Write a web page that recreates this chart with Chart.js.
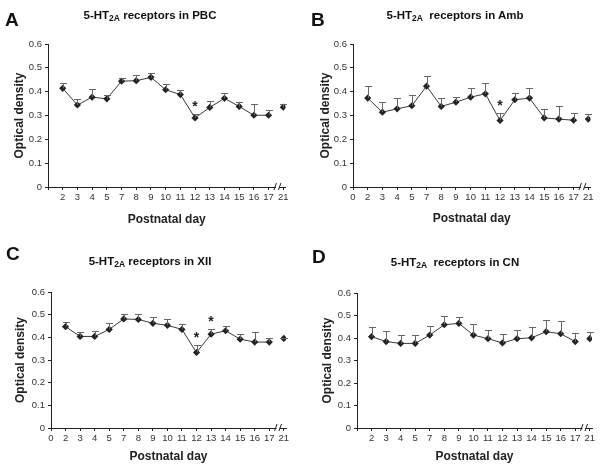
<!DOCTYPE html>
<html>
<head>
<meta charset="utf-8">
<script src="https://cdn.jsdelivr.net/npm/chart.js@4.4.0/dist/chart.umd.min.js"></script>
<style>
body { margin: 0; background: #fff; width: 600px; height: 473px; position: relative; overflow: hidden; font-family: "Liberation Sans", Arial, sans-serif; color: #111; }
.panel { position: absolute; }
.letter { position: absolute; font-weight: bold; font-size: 19px; line-height: 1; }
.title { position: absolute; font-weight: bold; font-size: 11.5px; white-space: nowrap; transform: translateX(-50%); line-height: 1; }
.title sub { font-size: 8.5px; vertical-align: -2px; }
</style>
</head>
<body>
<div class="panel" style="left:0;top:0;width:300px;height:236px"><canvas id="chartA"></canvas></div>
<div class="panel" style="left:300px;top:0;width:300px;height:236px"><canvas id="chartB"></canvas></div>
<div class="panel" style="left:0;top:236px;width:300px;height:237px"><canvas id="chartC"></canvas></div>
<div class="panel" style="left:300px;top:236px;width:300px;height:237px"><canvas id="chartD"></canvas></div>

<div class="letter" style="left:5px;top:10px">A</div>
<div class="letter" style="left:311px;top:10px">B</div>
<div class="letter" style="left:6px;top:244px">C</div>
<div class="letter" style="left:312px;top:247px">D</div>
<div class="title" style="left:150px;top:10px">5-HT<sub>2A</sub> receptors in PBC</div>
<div class="title" style="left:455px;top:10px">5-HT<sub>2A</sub>&nbsp; receptors in Amb</div>
<div class="title" style="left:150px;top:256px">5-HT<sub>2A</sub> receptors in XII</div>
<div class="title" style="left:455px;top:257px">5-HT<sub>2A</sub>&nbsp; receptors in CN</div>

<script>
// postnatal days on the category axis (index 0 is the axis origin)
const days = ['0', '2', '3', '4', '5', '7', '8', '9', '10', '11', '12', '13', '14', '15', '16', '17', '21'];
const yTicks = [0, 0.1, 0.2, 0.3, 0.4, 0.5, 0.6];

// PBC
const pbcMean = [0.414, 0.344, 0.377, 0.370, 0.444, 0.446, 0.460, 0.408, 0.388, 0.290, 0.334, 0.372, 0.338, 0.301, 0.301, 0.335];
const pbcSem  = [0.022, 0.025, 0.034, 0.017, 0.014, 0.024, 0.018, 0.024, 0.017, 0.017, 0.028, 0.022, 0.019, 0.047, 0.024, 0.013];
const pbcStars = ['12'];

// Amb
const ambMean = [0.373, 0.314, 0.328, 0.341, 0.423, 0.338, 0.356, 0.377, 0.391, 0.279, 0.366, 0.373, 0.290, 0.285, 0.280, 0.285];
const ambSem  = [0.052, 0.044, 0.045, 0.045, 0.042, 0.034, 0.021, 0.039, 0.045, 0.031, 0.028, 0.041, 0.037, 0.056, 0.030, 0.022];
const ambStars = ['12'];

// XII
const xiiMean = [0.447, 0.404, 0.404, 0.435, 0.481, 0.479, 0.462, 0.453, 0.435, 0.333, 0.414, 0.429, 0.392, 0.379, 0.379, 0.395];
const xiiSem  = [0.021, 0.021, 0.024, 0.030, 0.023, 0.022, 0.026, 0.026, 0.025, 0.031, 0.021, 0.021, 0.021, 0.043, 0.019, 0.004];
const xiiStars = ['12', '13'];

// CN
const cnMean = [0.406, 0.384, 0.376, 0.376, 0.413, 0.459, 0.465, 0.413, 0.397, 0.378, 0.397, 0.401, 0.428, 0.419, 0.384, 0.397];
const cnSem  = [0.041, 0.046, 0.039, 0.039, 0.039, 0.037, 0.028, 0.048, 0.039, 0.040, 0.039, 0.048, 0.051, 0.057, 0.038, 0.028];
const cnStars = [];

const INK = '#222';
const LINE = '#3a3a3a';
const FONT = '"Liberation Sans", Arial, sans-serif';

// upward error bars, asterisks and the axis break
const extrasPlugin = {
    id: 'extras',
    afterDatasetsDraw(chart, args, opts) {
        const { ctx } = chart;
        const x = chart.scales.x, y = chart.scales.y;
        ctx.save();
        ctx.strokeStyle = '#666';
        ctx.lineWidth = 1;
        opts.mean.forEach((m, i) => {
            const px = Math.round(x.getPixelForValue(i + 1)) + 0.5;
            const p0 = y.getPixelForValue(m);
            const p1 = Math.round(y.getPixelForValue(m + opts.sem[i])) + 0.5;
            ctx.beginPath();
            ctx.moveTo(px, p0);
            ctx.lineTo(px, p1);
            ctx.moveTo(px - 3.5, p1);
            ctx.lineTo(px + 3.5, p1);
            ctx.stroke();
        });
        ctx.fillStyle = INK;
        ctx.font = 'bold 14px ' + FONT;
        ctx.textAlign = 'center';
        ctx.textBaseline = 'middle';
        opts.stars.forEach(d => {
            const i = days.indexOf(d) - 1;
            const px = x.getPixelForValue(i + 1);
            const py = y.getPixelForValue(opts.mean[i] + opts.sem[i]);
            ctx.fillText('*', px, py - 7);
        });
        // break marks on the x axis between 17 and 21
        const bx = x.getPixelForValue(15.6);
        const by = y.getPixelForValue(0);
        ctx.fillStyle = '#fff';
        ctx.fillRect(bx - 1.5, by - 2, 3, 4);
        ctx.strokeStyle = INK;
        ctx.beginPath();
        ctx.moveTo(bx - 3.5, by + 3);
        ctx.lineTo(bx - 1, by - 4);
        ctx.moveTo(bx + 1, by + 3);
        ctx.lineTo(bx + 3.5, by - 4);
        ctx.stroke();
        ctx.restore();
    }
};

function makeChart(id, mean, sem, stars, box) {
    const points = mean.map((v, i) => ({ x: i + 1, y: v }));
    return new Chart(document.getElementById(id), {
        type: 'line',
        data: {
            datasets: [{
                data: points,
                borderColor: LINE,
                borderWidth: 1,
                backgroundColor: INK,
                pointStyle: 'rectRot',
                pointRadius: 3.6,
                pointBorderWidth: 0,
                tension: 0,
                segment: {
                    // 17 -> 21 is not joined
                    borderColor: c => c.p1DataIndex === mean.length - 1 ? 'rgba(0,0,0,0)' : LINE
                }
            }]
        },
        options: {
            responsive: true,
            maintainAspectRatio: false,
            animation: false,
            layout: { padding: { left: 0, top: box.top, right: box.right, bottom: 0 } },
            plugins: {
                legend: { display: false },
                tooltip: { enabled: false },
                extras: { mean, sem, stars }
            },
            scales: {
                x: {
                    type: 'linear',
                    min: 0,
                    max: 16.15,
                    afterFit: s => { s.height = box.xh; },
                    afterBuildTicks: s => { s.ticks = days.map((d, i) => ({ value: i })); },
                    grid: { display: true, drawOnChartArea: false, drawTicks: true, tickLength: 3, color: INK },
                    border: { display: true, color: INK, width: 1 },
                    ticks: {
                        autoSkip: false,
                        maxRotation: 0,
                        padding: 2,
                        color: '#333',
                        font: { family: FONT, size: 9.5 },
                        callback: (v, i) => (i === 0 && !box.zero) ? '' : days[i]
                    },
                    title: {
                        display: true,
                        text: 'Postnatal day',
                        color: INK,
                        font: { family: FONT, size: 12, weight: 'bold' },
                        padding: { top: 0, bottom: box.xtp }
                    }
                },
                y: {
                    min: 0,
                    max: 0.6,
                    afterFit: s => { s.width = box.left; },
                    afterBuildTicks: s => { s.ticks = yTicks.map(v => ({ value: v })); },
                    grid: { display: true, drawOnChartArea: false, drawTicks: true, tickLength: 3, color: INK },
                    border: { display: true, color: INK, width: 1 },
                    ticks: {
                        padding: 3,
                        color: '#333',
                        font: { family: FONT, size: 9.5 },
                        callback: v => v === 0 ? '0' : v.toFixed(1)
                    },
                    title: {
                        display: true,
                        text: 'Optical density',
                        color: INK,
                        font: { family: FONT, size: 12, weight: 'bold' },
                        padding: { top: box.ytp, bottom: 0 }
                    }
                }
            }
        },
        plugins: [extrasPlugin]
    });
}

makeChart('chartA', pbcMean, pbcSem, pbcStars, { left: 48, top: 44, right: 14.5, xh: 49, zero: false, xtp: 9, ytp: 12 });
makeChart('chartB', ambMean, ambSem, ambStars, { left: 53, top: 44, right: 9.5, xh: 49, zero: true, xtp: 10, ytp: 18 });
makeChart('chartC', xiiMean, xiiSem, xiiStars, { left: 51, top: 56, right: 14, xh: 45, zero: true, xtp: 9, ytp: 13 });
makeChart('chartD', cnMean, cnSem, cnStars, { left: 57, top: 57, right: 8, xh: 45, zero: false, xtp: 9, ytp: 20 });
</script>
</body>
</html>
